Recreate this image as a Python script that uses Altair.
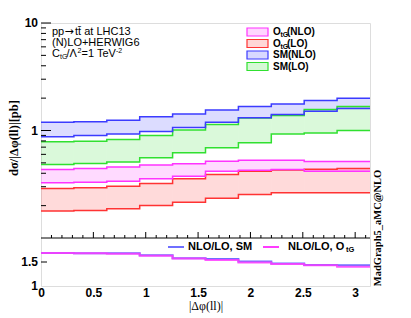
import altair as alt
import pandas as pd

# ---------------- data ----------------
EDGES = [0.0, 0.3142, 0.6283, 0.9425, 1.2566, 1.5708, 1.885, 2.1991, 2.5133, 2.8274, 3.1416]

SM_NLO_HI = [1.195, 1.205, 1.247, 1.341, 1.424, 1.551, 1.672, 1.764, 1.901, 1.996]
SM_NLO_LO = [0.874, 0.899, 0.928, 0.979, 1.066, 1.195, 1.313, 1.409, 1.512, 1.602]
SM_LO_HI = [0.785, 0.795, 0.825, 0.899, 1.011, 1.137, 1.307, 1.379, 1.567, 1.672]
SM_LO_LO = [0.483, 0.493, 0.509, 0.557, 0.620, 0.690, 0.768, 0.930, 0.950, 1.000]
OTG_NLO_HI = [0.434, 0.443, 0.458, 0.478, 0.490, 0.518, 0.529, 0.529, 0.515, 0.515]
OTG_NLO_LO = [0.326, 0.330, 0.337, 0.355, 0.376, 0.418, 0.427, 0.434, 0.418, 0.418]
OTG_LO_HI = [0.289, 0.293, 0.303, 0.321, 0.355, 0.390, 0.418, 0.429, 0.436, 0.443]
OTG_LO_LO = [0.178, 0.180, 0.187, 0.201, 0.215, 0.234, 0.254, 0.263, 0.263, 0.263]

RATIO_SM = [1.69, 1.68, 1.68, 1.64, 1.58, 1.56, 1.51, 1.47, 1.44, 1.43]
RATIO_OTG = [1.69, 1.68, 1.67, 1.63, 1.575, 1.54, 1.49, 1.46, 1.43, 1.40]

SERIES_NAMES = ["SM(LO)", "SM(NLO)", "OtG(LO)", "OtG(NLO)"]
SERIES_LO = [SM_LO_LO, SM_NLO_LO, OTG_LO_LO, OTG_NLO_LO]
SERIES_HI = [SM_LO_HI, SM_NLO_HI, OTG_LO_HI, OTG_NLO_HI]

YT_MAJ = [1, 10]
YT_MIN = [0.2, 0.3, 0.4, 0.5, 0.6, 0.7, 0.8, 0.9, 2, 3, 4, 5, 6, 7, 8, 9]
XT_MAJ = [0.5, 1.0, 1.5, 2.0, 2.5, 3.0]
XT_MIN = [0.1, 0.2, 0.3, 0.4, 0.6, 0.7, 0.8, 0.9, 1.1, 1.2, 1.3, 1.4, 1.6, 1.7, 1.8, 1.9,
          2.1, 2.2, 2.3, 2.4, 2.6, 2.7, 2.8, 2.9, 3.1]
X_LABELS = [0, 0.5, 1, 1.5, 2, 2.5, 3]
Y_LABELS_MAIN = [1, 10]
Y_LABELS_RATIO = [1, 1.5]

# ---------------- style ----------------
C_MAG, C_RED, C_BLUE, C_GREEN = "#ff33ff", "#ff3333", "#3b3bff", "#30e030"
C_R_SM, C_R_OTG = "#6f6fff", "#ff3cff"
COLORS = [C_GREEN, C_BLUE, C_RED, C_MAG]
W, HM, HR = 329, 215, 48
H = HM + HR
SANS, SERIF = "Liberation Sans", "Liberation Serif"

X_SCALE = alt.Scale(domain=[0, 3.1416], nice=False, zero=False)
X_AXIS = alt.Axis(values=X_LABELS, format="~g", tickSize=0, domain=False, grid=False,
                  labelFont=SANS, labelFontWeight="bold", labelFontSize=12, labelColor="black",
                  labelPadding=1, labelFlush=False, labelOverlap=False,
                  title="|Δφ(ll)|", titleFont=SERIF, titleFontSize=12, titleFontWeight="normal",
                  titleColor="black", titlePadding=2)
Y_MAIN = alt.Scale(type="log", domain=[0.1, 10], range=[HM, 0], nice=False)
Y_RATIO = alt.Scale(domain=[1, 2], range=[H, HM], nice=False, zero=False)
COLOR = alt.Color("s:N", scale=alt.Scale(domain=SERIES_NAMES, range=COLORS), legend=None)

# band tables
rects, lines = [], []
for name, lo, hi in zip(SERIES_NAMES, SERIES_LO, SERIES_HI):
    for i in range(len(lo)):
        rects.append({"s": name, "x0": EDGES[i], "x1": EDGES[i + 1], "lo": lo[i], "hi": hi[i]})
    for side, vals in (("lo", lo), ("hi", hi)):
        pts = list(vals) + [vals[-1]]
        for e, v in zip(EDGES, pts):
            lines.append({"s": name, "k": name + side, "x": e, "v": v})
rect_df = pd.DataFrame(rects)
line_df = pd.DataFrame(lines)

band_fill = alt.Chart(rect_df).mark_rect(fillOpacity=0.18, strokeWidth=0).encode(
    x=alt.X("x0:Q", scale=X_SCALE, axis=X_AXIS), x2="x1:Q",
    y=alt.Y("lo:Q", scale=Y_MAIN, axis=None), y2="hi:Q", color=COLOR)
band_line = alt.Chart(line_df).mark_line(interpolate="step-after", strokeWidth=1.5).encode(
    x=alt.X("x:Q", scale=X_SCALE, axis=X_AXIS),
    y=alt.Y("v:Q", scale=Y_MAIN, axis=None), color=COLOR, detail="k:N")


def vrules(vals, length, scale):
    return alt.Chart(pd.DataFrame({"v": vals})).mark_rule(color="black", strokeWidth=1).encode(
        y=alt.Y("v:Q", scale=scale, axis=None), x=alt.value(0), x2=alt.value(length))


def hrules(vals, ybase, length):
    return alt.Chart(pd.DataFrame({"v": vals})).mark_rule(color="black", strokeWidth=1).encode(
        x=alt.X("v:Q", scale=X_SCALE, axis=X_AXIS), y=alt.value(ybase), y2=alt.value(ybase - length))


def ylabels(vals, scale):
    return alt.Chart(pd.DataFrame({"v": vals, "t": [f"{v:g}" for v in vals]})).mark_text(
        align="right", baseline="middle", font=SANS, fontWeight="bold", fontSize=12, color="black"
    ).encode(y=alt.Y("v:Q", scale=scale, axis=None), x=alt.value(-3), text="t:N")


def txt(s, x, y, size=11, bold=False, font=SANS, align="left", angle=0, color="black"):
    return alt.Chart(pd.DataFrame({"t": [s]})).mark_text(
        align=align, baseline="middle", font=font, fontSize=size,
        fontWeight="bold" if bold else "normal", angle=angle, color=color
    ).encode(x=alt.value(x), y=alt.value(y), text="t:N")


def swatch(y, color):
    return alt.Chart(pd.DataFrame({"t": [0]})).mark_rect(
        fill=color, fillOpacity=0.2, stroke=color, strokeWidth=1.2
    ).encode(x=alt.value(206), x2=alt.value(227), y=alt.value(y - 4), y2=alt.value(y + 4))


def seg(x1, x2, y, color, op=1.0):
    return alt.Chart(pd.DataFrame({"t": [0]})).mark_rule(color=color, strokeWidth=2, opacity=op).encode(
        x=alt.value(x1), x2=alt.value(x2), y=alt.value(y))


# legend (main)
leg_rows = [9, 20.5, 32, 43.5]
legend = [
    swatch(leg_rows[0], C_MAG), txt("O", 232, leg_rows[0], 10, True), txt("tG", 239.5, leg_rows[0] + 3, 7, True),
    txt("(NLO)", 246, leg_rows[0], 10, True),
    swatch(leg_rows[1], C_RED), txt("O", 232, leg_rows[1], 10, True), txt("tG", 239.5, leg_rows[1] + 3, 7, True),
    txt("(LO)", 246, leg_rows[1], 10, True),
    swatch(leg_rows[2], C_BLUE), txt("SM(NLO)", 232, leg_rows[2], 10, True),
    swatch(leg_rows[3], C_GREEN), txt("SM(LO)", 232, leg_rows[3], 10, True),
]

info = [
    txt("pp", 11, 9, 11), txt("→", 23.5, 9, 11, font="DejaVu Sans"), txt("tt\u0304 at LHC13", 34, 9, 11),
    txt("(N)LO+HERWIG6", 11, 20, 11),
    txt("C", 11, 31, 11), txt("tG", 19, 34, 7), txt("/Λ", 25.5, 31, 11), txt("2", 36.5, 27.5, 7),
    txt("=1 TeV", 40.5, 31, 11), txt("-2", 75, 27.5, 7),
]

main = alt.layer(
    band_fill, band_line,
    vrules(YT_MAJ, 10, Y_MAIN), vrules(YT_MIN, 5, Y_MAIN),
    hrules(XT_MAJ, HM, 6), hrules(XT_MIN, HM, 3),
    ylabels(Y_LABELS_MAIN, Y_MAIN),
    *legend, *info,
    txt("dσ/|Δφ(ll)|[pb]", -27, 115, 12.5, True, SERIF, "center", 270),
    txt("MadGraph5_aMC@NLO", 337, 205, 10.5, True, SERIF, "center", 270),
)


# ratio panel
def ratio_line(vals, color, op):
    pts = list(vals) + [vals[-1]]
    df = pd.DataFrame({"x": EDGES, "r": pts})
    return alt.Chart(df).mark_line(interpolate="step-after", strokeWidth=2, color=color, opacity=op).encode(
        x=alt.X("x:Q", scale=X_SCALE, axis=X_AXIS),
        y=alt.Y("r:Q", scale=Y_RATIO, axis=None))


ry = HM + 9
ratio = alt.layer(
    ratio_line(RATIO_SM, C_R_SM, 1.0),
    ratio_line(RATIO_OTG, C_R_OTG, 0.85),
    vrules([1.5], 6, Y_RATIO),
    ylabels(Y_LABELS_RATIO, Y_RATIO),
    seg(127, 143, ry, C_R_SM), txt("NLO/LO, SM", 147, ry, 11, True),
    seg(222, 238, ry, C_R_OTG), txt("NLO/LO, O", 247, ry, 11, True), txt("tG", 305, ry + 3, 7.5, True),
    alt.Chart(pd.DataFrame({"t": [0]})).mark_rule(color="black", strokeWidth=1).encode(
        x=alt.value(0), x2=alt.value(W), y=alt.value(HM)),
)

chart = alt.layer(main, ratio).resolve_scale(y="independent").properties(
    width=W, height=H,
    autosize=alt.AutoSizeParams(type="none"),
    padding={"left": 33, "top": 15, "right": 30, "bottom": 30},
).configure_view(stroke="#444", strokeWidth=1.2).configure(background="white")

chart.save("out.html", embed_options={"renderer": "svg", "actions": False})
